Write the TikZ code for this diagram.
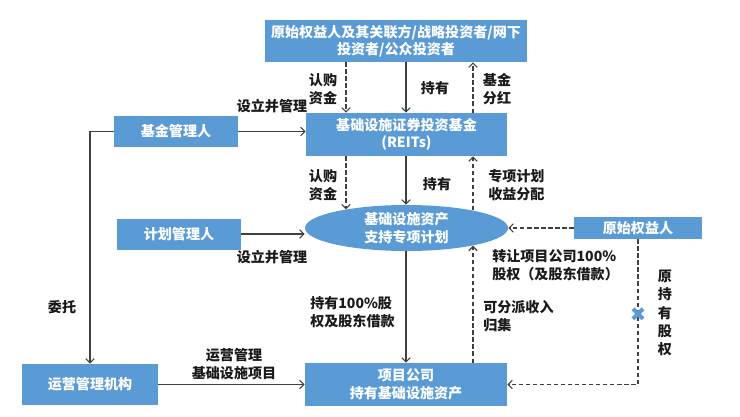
\documentclass[tikz,border=0pt]{standalone}
\usepackage{fontspec}
\setmainfont{Noto Sans CJK SC}
\newfontfamily\symfont{DejaVu Sans}
\usetikzlibrary{arrows.meta,shapes.geometric}
\definecolor{ReitBlue}{HTML}{5B9BD5}
\definecolor{ReitInk}{HTML}{1A1A1A}
\definecolor{ReitLine}{HTML}{404040}

\begin{document}
\begin{tikzpicture}[x=0.025cm,y=-0.025cm,
  box/.style={fill=ReitBlue,text=white,font=\fontsize{10}{12.5}\selectfont\bfseries,align=center,inner sep=0pt},
  lbl/.style={text=ReitInk,font=\fontsize{10}{12.5}\selectfont\bfseries,inner sep=0pt},
  flow/.style={draw=ReitLine,line width=0.8pt,-{Straight Barb[length=3pt,width=6pt]}},
  cashflow/.style={flow,dash pattern=on 3pt off 2pt}]
\useasboundingbox (0,0) rectangle (740,416);
\node[box,minimum width=6.55cm,minimum height=1.05cm] (inv) at (396,41) {原始权益人及其关联方/战略投资者/网下\\投资者/公众投资者};
\node[box,minimum width=5.025cm,minimum height=1.075cm] (reits) at (406.5,134.5) {基础设施证券投资基金\\(REITs)};
\node[box,ellipse,minimum width=5.075cm,minimum height=1.15cm] (spv) at (406.5,228) {基础设施资产\\支持专项计划};
\node[box,minimum width=5.05cm,minimum height=1.075cm] (proj) at (406,384.5) {项目公司\\持有基础设施资产};
\node[box,minimum width=3.1cm,minimum height=0.775cm] (fm) at (176,131.5) {基金管理人};
\node[box,minimum width=3.1cm,minimum height=0.775cm] (pm) at (179,234) {计划管理人};
\node[box,minimum width=3.4cm,minimum height=1.025cm] (om) at (90,384.5) {运营管理机构};
\node[box,minimum width=3.2cm,minimum height=0.55cm] (oe) at (638,228) {原始权益人};
\coordinate (cL) at (346,0); \coordinate (cM) at (406,0); \coordinate (cR) at (473,0);
\draw[cashflow] (inv.south -| cL) -- (reits.north -| cL);
\draw[flow] (inv.south -| cM) -- (reits.north -| cM);
\draw[cashflow] (reits.north -| cR) -- (inv.south -| cR);
\draw[cashflow] (reits.south -| cL) -- (cL |- spv.163);
\draw[flow] (reits.south -| cM) -- (spv.north -| cM);
\draw[cashflow] (cR |- spv.15) -- (reits.south -| cR);
\draw[flow] (spv.south -| cM) -- (proj.north -| cM);
\draw[cashflow] (proj.north -| cR) -- (cR |- spv.-15);
\draw[cashflow] (oe.west) -- (spv.east);
\draw[cashflow] (oe.south) |- (proj.east);
\draw[flow] (fm.east) -- (fm.east -| reits.west);
\draw[flow] (pm.east) -- (pm.east -| spv.west);
\draw[flow] (fm.west) -| (om.north);
\draw[flow] (om.east) -- (proj.west);
\node[text=ReitBlue,font=\fontsize{14}{14}\symfont,inner sep=0pt] (cut) at (638,315) {✖};
\node[lbl,align=center] (buyA) at (323,89) {认购\\资金};
\node[lbl] (holdA) at (435,88) {持有};
\node[lbl,align=center] (divA) at (497,89) {基金\\分红};
\node[lbl] (setA) at (272,106) {设立并管理};
\node[lbl,align=center] (buyB) at (323,185) {认购\\资金};
\node[lbl] (holdB) at (437,184) {持有};
\node[lbl,align=left,anchor=west] (distB) at (488,185) {专项计划\\收益分配};
\node[lbl] (setB) at (272,257) {设立并管理};
\node[lbl,align=left,anchor=west] (holdC) at (310,312) {持有100\%股\\权及股东借款};
\node[lbl,align=left,anchor=west] (xferC) at (492,265) {转让项目公司100\%\\股权（及股东借款）};
\node[lbl,align=left,anchor=west] (incC) at (483,316) {可分派收入\\归集};
\node[lbl] (entrust) at (62,307) {委托};
\node[lbl,align=center] (opsC) at (234,364) {运营管理\\基础设施项目};
\node[lbl,align=center,font=\fontsize{10}{13}\selectfont\bfseries] (origC) at (665,313) {原\\持\\有\\股\\权};
\end{tikzpicture}
\end{document}
